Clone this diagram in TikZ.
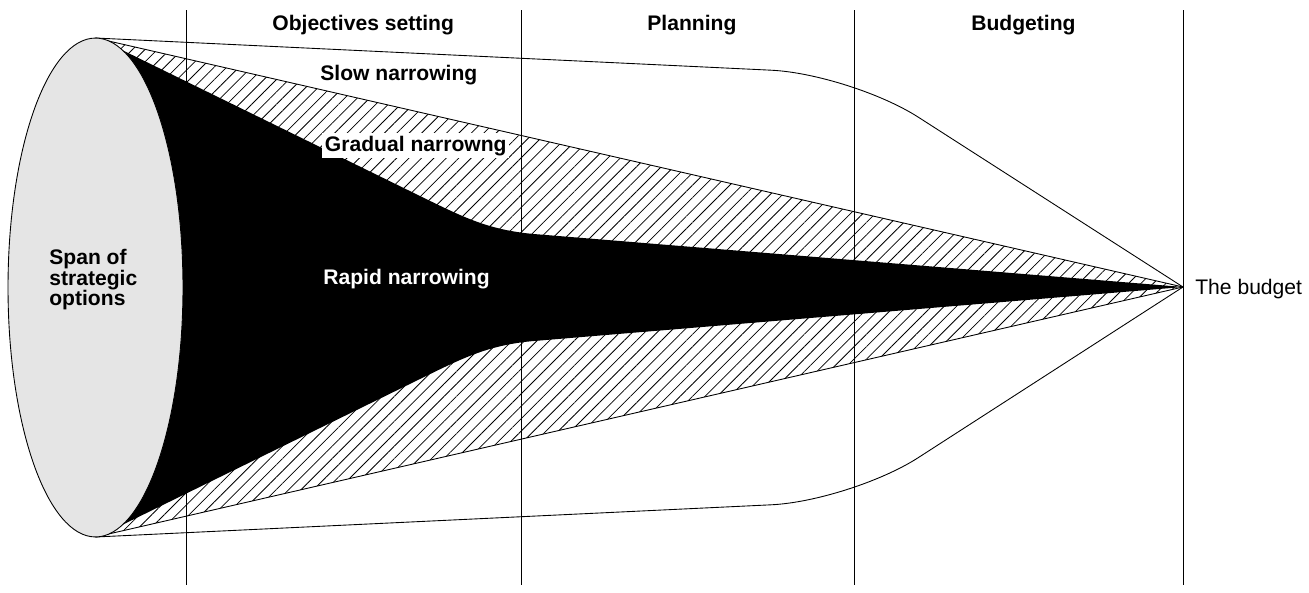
\documentclass[tikz,border=0pt]{standalone}
\usepackage{fontspec}
\setmainfont{Liberation Sans}
\usetikzlibrary{patterns.meta,shapes.geometric}
\tikzset{%
    Dline/.style={line width=0.5pt, line join=bevel},
    Dhatch/.style={pattern={Lines[angle=45,distance=5pt,line width=0.45pt]}},
    Dspan/.style={shape=ellipse, draw, fill=black!10, line width=0.5pt,
        minimum width=3.5cm, minimum height=9.98cm, inner sep=0pt, outer sep=0pt},
    Dhead/.style={font=\bfseries\fontsize{12}{14}\selectfont, inner sep=0pt, anchor=base west},
    Dtext/.style={font=\fontsize{12}{14}\selectfont, inner sep=0pt, anchor=base west}
}

\begin{document}
\begin{tikzpicture}[x=0.02cm, y=-0.02cm]
    \useasboundingbox (0,0) rectangle (1309,592);
        \path
            (95.5,38) coordinate (Ntop)
            (95.5,537) coordinate (Nbot)
            (1183,287) coordinate (Nbud)
            (851,74) coordinate (Nkt)
            (851,501) coordinate (Nkb);
        % gradual narrowing
        \draw[Dline, Dhatch] (Ntop) -- (Nbud) -- (Nbot) -- cycle;
        % rapid narrowing
        \fill (100,287) -- (120,49) -- (420,196) .. controls (465,218) and (490,231) .. (540,234.5)
            -- (Nbud) -- (540,340.5) .. controls (490,344) and (465,357) .. (420,379) -- (120,526) -- cycle;
        % slow narrowing
        \draw[Dline, rounded corners=1.6cm] (Ntop) -- (Nkt) -- (Nbud);
        \draw[Dline, rounded corners=1.6cm] (Nbot) -- (Nkb) -- (Nbud);
        \foreach \x in {186,521,854,1183}
            \draw[Dline] (\x,10) -- (\x,585);
        \node[Dspan] (Nspan) at (95.5,287.5) {};
        \node[font=\bfseries\fontsize{12}{11.7}\selectfont, align=left, inner sep=0pt, anchor=north west]
            (Nspantxt) at (49,249) {Span of\\strategic\\options};
        \node[Dhead] (Nobj) at (272,30) {Objectives setting};
        \node[Dhead] (Nplan) at (647,30) {Planning};
        \node[Dhead] (Nbudg) at (971,30) {Budgeting};
        \node[Dhead] (Nslow) at (320,80) {Slow narrowing};
        \node[Dhead, fill=white, inner sep=1.5pt] (Ngrad) at (322,151) {Gradual narrowng};
        \node[Dhead, text=white] (Nrapid) at (323,284) {Rapid narrowing};
        \node[Dtext] (Nthe) at (1195,294) {The budget};
\end{tikzpicture}
\end{document}
